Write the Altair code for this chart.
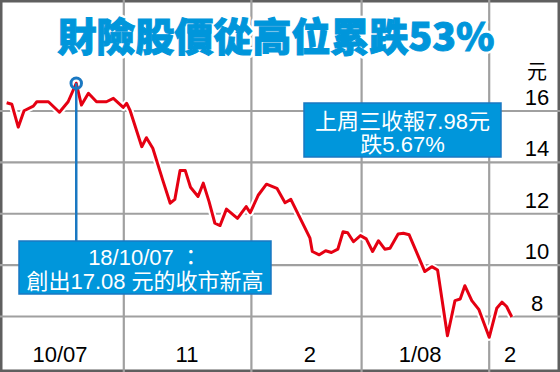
import altair as alt
import pandas as pd
import numpy as np

# ---- data (trading-day index, closing price HK$) ----
day = [1.3, 2.2, 3.3, 4.3, 5.9, 6.5, 8.5, 10.4, 11.9, 13.3, 14.2, 15.4, 16.8, 18.5,
       19.7, 21.4, 22.0, 22.6, 24.6, 25.4, 26.5, 28.2, 29.5, 30.3, 31.2, 32.1, 33.0,
       34.3, 35.2, 36.2, 37.2, 38.1, 39.2, 41.1, 42.6, 43.3, 44.7, 46.1, 47.9, 49.3,
       50.3, 53.6, 54.0, 55.2, 56.3, 57.3, 58.4, 59.3, 60.1, 61.1, 62.3, 63.3, 64.4,
       65.4, 66.5, 67.4, 68.8, 69.7, 70.7, 73.4, 74.6, 75.6, 77.3, 78.6, 79.5, 80.3,
       81.5, 82.7, 84.5, 85.8, 86.7, 87.5, 88.4]
price = [16.32, 16.26, 15.37, 16.01, 16.19, 16.36, 16.36, 15.95, 16.36, 17.08, 16.23,
         16.69, 16.36, 16.36, 16.49, 16.14, 16.30, 16.01, 14.61, 14.96, 14.55, 13.32,
         12.41, 12.56, 13.68, 13.68, 13.03, 12.67, 13.19, 12.47, 11.63, 11.54, 12.18,
         11.82, 12.28, 12.04, 12.73, 13.15, 12.99, 12.43, 12.56, 11.05, 10.53, 10.40,
         10.56, 10.49, 10.62, 11.30, 11.26, 10.91, 11.15, 11.02, 10.53, 10.95, 10.62,
         10.66, 11.21, 11.24, 11.18, 9.75, 9.94, 9.81, 7.25, 8.62, 8.68, 9.20, 8.62,
         8.28, 7.19, 8.32, 8.56, 8.39, 7.98]

month_labels = ["10/07", "11", "2", "1/08", "2"]
month_label_day = [10.5, 32.4, 53.6, 72.6, 88.1]
month_trading_days = [21, 22, 19, 22]          # Oct, Nov, Dec, Jan
y_ticks = [8, 10, 12, 14, 16]
high_day = 13.3
high_price = 17.08

title_text = "財險股價從高位累跌53%"
unit_text = "元"
note_high = ["18/10/07 ：", "創出17.08 元的收市新高"]
note_last = ["上周三收報7.98元", "跌5.67%"]

# ---- derived tables ----
line_df = pd.DataFrame({"day": day, "price": price})
bounds = list(np.cumsum(month_trading_days) + 0.5)
bound_df = pd.DataFrame({"day": bounds})
mlab_df = pd.DataFrame({"day": month_label_day, "label": month_labels})
tick_df = pd.DataFrame({"price": y_ticks, "label": [str(t) for t in y_ticks]})
high_df = pd.DataFrame({"day": [high_day], "price": [high_price]})
one = pd.DataFrame({"a": [0]})

W, H = 560, 372
xs = alt.Scale(domain=[0.155, 96.707], nice=False, zero=False)
ys = alt.Scale(domain=[5.84, 20.32], nice=False, zero=False)

LAT = "Liberation Sans, Noto Sans CJK TC"
CJK = "Noto Sans CJK TC"
GRID = "#a0a0a0"
BLUE = "#0096db"
BLUE_D = "#1a78c2"
RED = "#e50012"

hgrid = alt.Chart(tick_df).mark_rule(color=GRID, strokeWidth=2.2).encode(
    y=alt.Y("price:Q", scale=ys, axis=None), x=alt.value(0), x2=alt.value(W))
vgrid = alt.Chart(bound_df).mark_rule(color=GRID, strokeWidth=2.2).encode(
    x=alt.X("day:Q", scale=xs, axis=None), y=alt.value(0), y2=alt.value(H))

halo = alt.Chart(line_df).mark_line(color="white", strokeWidth=7, strokeJoin="round").encode(
    x=alt.X("day:Q", scale=xs, axis=None), y=alt.Y("price:Q", scale=ys, axis=None))
line = alt.Chart(line_df).mark_line(color=RED, strokeWidth=3, strokeJoin="round").encode(
    x=alt.X("day:Q", scale=xs, axis=None), y=alt.Y("price:Q", scale=ys, axis=None))

pointer = alt.Chart(high_df).mark_rule(color=BLUE_D, strokeWidth=2.5).encode(
    x=alt.X("day:Q", scale=xs, axis=None), y=alt.Y("price:Q", scale=ys, axis=None),
    y2=alt.value(241))
circle = alt.Chart(high_df).mark_point(shape="circle", size=110, filled=False,
                                        color=BLUE_D, strokeWidth=3, opacity=1).encode(
    x=alt.X("day:Q", scale=xs, axis=None), y=alt.Y("price:Q", scale=ys, axis=None))

box1 = alt.Chart(one).mark_rect(fill=BLUE, stroke=BLUE_D, strokeWidth=1.5).encode(
    x=alt.value(19), x2=alt.value(271), y=alt.value(241), y2=alt.value(294))
box2 = alt.Chart(one).mark_rect(fill=BLUE, stroke=BLUE_D, strokeWidth=1.5).encode(
    x=alt.value(304), x2=alt.value(501), y=alt.value(103), y2=alt.value(157))

def txt(s, x, y, size=22, color="white", font=LAT, align="center", weight="normal"):
    return alt.Chart(one).mark_text(text=s, font=font, fontSize=size, color=color,
                                    align=align, baseline="alphabetic",
                                    fontWeight=weight).encode(
        x=alt.value(x), y=alt.value(y))

notes = [txt(note_high[0], 145, 265), txt(note_high[1], 145, 288.5),
         txt(note_last[0], 402.5, 128.5), txt(note_last[1], 402.5, 152)]

ticks = alt.Chart(tick_df).mark_text(font=LAT, fontSize=22, color="black", align="center",
                                     baseline="alphabetic", dy=-6).encode(
    y=alt.Y("price:Q", scale=ys, axis=None), x=alt.value(537), text="label:N")
unit = txt(unit_text, 537, 79, size=20, color="black", font=CJK)

mlabels = alt.Chart(mlab_df).mark_text(font=LAT, fontSize=22, color="black", align="center",
                                       baseline="alphabetic").encode(
    x=alt.X("day:Q", scale=xs, axis=None), y=alt.value(361.5), text="label:N")

title_stroke = alt.Chart(one).mark_text(text=title_text, font=CJK, fontSize=39,
                                        fontWeight=900, fill="white", stroke="white",
                                        strokeWidth=6, strokeJoin="round", align="center",
                                        baseline="alphabetic").encode(
    x=alt.value(276), y=alt.value(51))
title_fill = alt.Chart(one).mark_text(text=title_text, font=CJK, fontSize=39,
                                      fontWeight=900, fill=BLUE, stroke=BLUE,
                                      strokeWidth=1, align="center",
                                      baseline="alphabetic").encode(
    x=alt.value(276), y=alt.value(51))

chart = alt.layer(hgrid, vgrid, halo, line, pointer, circle, box1, box2, *notes,
                  ticks, unit, mlabels, title_stroke, title_fill).properties(
    width=W, height=H, padding=0, autosize="none", background="white"
).configure_view(stroke="#5f5f5f", strokeWidth=5)

chart.save("out.html", embed_options={"renderer": "svg", "actions": False})
